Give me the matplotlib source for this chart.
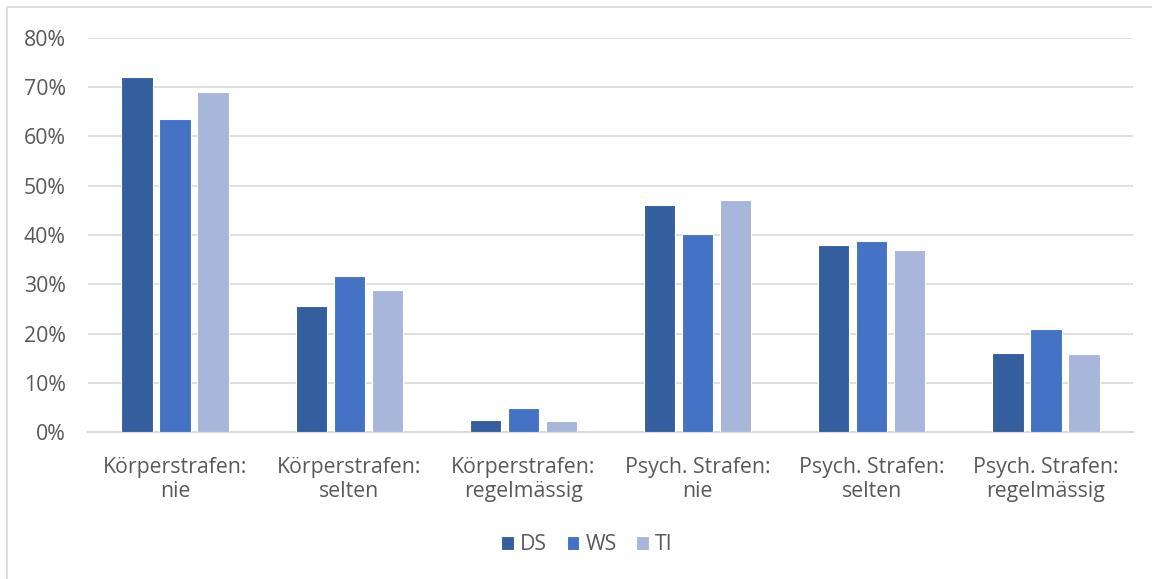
import matplotlib
matplotlib.use("Agg")
import matplotlib.pyplot as plt
import numpy as np
from matplotlib.patches import Rectangle
from matplotlib.ticker import FuncFormatter, MultipleLocator

categories = ["Körperstrafen:\nnie", "Körperstrafen:\nselten", "Körperstrafen:\nregelmässig",
              "Psych. Strafen:\nnie", "Psych. Strafen:\nselten", "Psych. Strafen:\nregelmässig"]
series_names = ["DS", "WS", "TI"]
ds = [72.0, 25.6, 2.4, 46.0, 38.0, 16.1]
ws = [63.5, 31.7, 4.9, 40.2, 38.8, 21.0]
ti = [69.0, 28.8, 2.2, 47.1, 37.0, 15.9]
colors = ["#355E9F", "#4472C4", "#A8B6DB"]

plt.rcParams['font.family'] = ['Open Sans', 'DejaVu Sans']
txt = "#595959"
fs = 15.3

fig = plt.figure(figsize=(11.52, 5.79), dpi=100)
W, H = 1152, 579
ax = fig.add_axes([88 / W, 1 - 432 / H, (1133 - 88) / W, (432 - 38) / H])

x = np.arange(len(categories))
bw = 0.18
step = 0.218
for i, (vals, name) in enumerate(zip([ds, ws, ti], series_names)):
    ax.bar(x + (i - 1) * step, vals, width=bw, color=colors[i], label=name,
           edgecolor="white", linewidth=0.8, zorder=3)

ax.set_xlim(-0.5, len(categories) - 0.5)
ax.set_ylim(0, 80)
ax.yaxis.set_major_locator(MultipleLocator(10))
ax.yaxis.set_major_formatter(FuncFormatter(lambda v, p: f"{int(v)}%"))
ax.grid(axis="y", color="#D9D9D9", linewidth=1.2, zorder=0)
for s in ["top", "right", "left"]:
    ax.spines[s].set_visible(False)
ax.spines["bottom"].set_color("#D9D9D9")
ax.spines["bottom"].set_linewidth(1.5)
ax.tick_params(axis="both", length=0, colors=txt, labelsize=fs)
ax.tick_params(axis="y", pad=16)
ax.tick_params(axis="x", pad=18)
ax.set_xticks(x)
ax.set_xticklabels(categories, linespacing=1.2)

leg = fig.legend(loc="center", bbox_to_anchor=(587 / W, 1 - 545 / H), ncol=3, frameon=False,
                 fontsize=fs, handlelength=0.6, handleheight=0.6, handletextpad=0.3,
                 columnspacing=0.9)
for t in leg.get_texts():
    t.set_color(txt)

fig.patches.append(Rectangle((7 / W, -0.1), 1.2, 1 - 7 / H + 0.1, transform=fig.transFigure,
                             fill=False, edgecolor="#D9D9D9", linewidth=1.2))

fig.savefig("out.png", dpi=100, facecolor="white")
